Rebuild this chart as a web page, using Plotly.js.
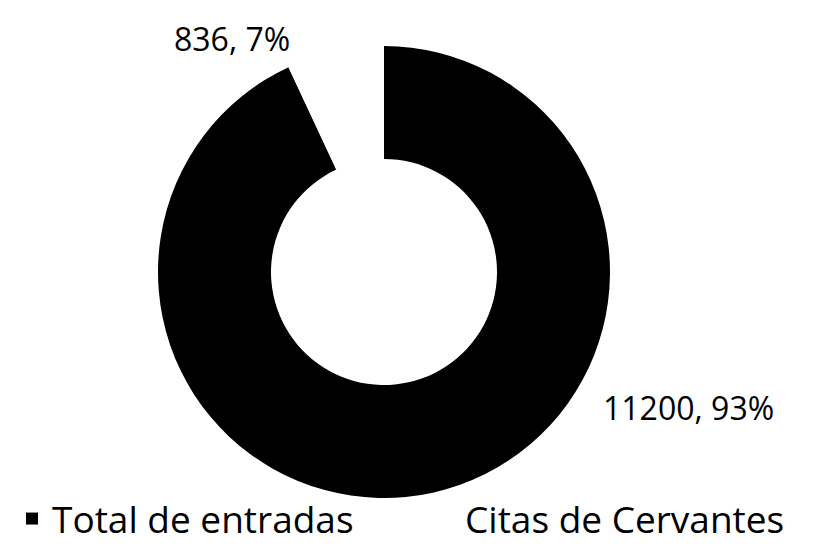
<!DOCTYPE html>
<html>
<head>
<meta charset="utf-8">
<script src="https://cdn.plot.ly/plotly-3.0.1.min.js"></script>
<style>
  html, body { margin: 0; padding: 0; background: #ffffff; overflow: hidden; }
  #chart { width: 832px; height: 545px; }
</style>
</head>
<body>
<div id="chart"></div>
<script>
// Data
const categories = ["Total de entradas", "Citas de Cervantes"];
const values = [11200, 836];
const sliceColors = ["#000000", "#ffffff"];

const total = values.reduce((a, b) => a + b, 0);
const labelText = values.map(v => v + ", " + Math.round(v / total * 100) + "%");

const W = 832, H = 545;

const trace = {
  type: "pie",
  labels: categories,
  values: values,
  hole: 0.5,
  sort: false,
  direction: "clockwise",
  rotation: 0,
  textinfo: "none",
  hoverinfo: "label+value+percent",
  marker: { colors: sliceColors, line: { width: 0 } },
  domain: { x: [158 / W, 610 / W], y: [1 - 498 / H, 1 - 46 / H] }
};

const layout = {
  width: W,
  height: H,
  margin: { l: 0, r: 0, t: 0, b: 0, autoexpand: false },
  paper_bgcolor: "#ffffff",
  plot_bgcolor: "#ffffff",
  font: { family: "Open Sans, sans-serif", color: "#000000" },
  showlegend: true,
  legend: {
    orientation: "h",
    x: 12 / W,
    xanchor: "left",
    y: 1 - 519 / H,
    yanchor: "middle",
    font: { size: 37, color: "#000000", family: "Open Sans, sans-serif" },
    entrywidth: 368,
    entrywidthmode: "pixels",
    bgcolor: "rgba(0,0,0,0)",
    borderwidth: 0
  },
  annotations: [
    {
      xref: "paper", yref: "paper",
      x: 231.5 / W, y: 1 - 38.5 / H,
      xanchor: "center", yanchor: "middle",
      text: labelText[1],
      showarrow: false,
      font: { size: 32, color: "#000000", family: "Open Sans, sans-serif" }
    },
    {
      xref: "paper", yref: "paper",
      x: 688 / W, y: 1 - 407.5 / H,
      xanchor: "center", yanchor: "middle",
      text: labelText[0],
      showarrow: false,
      font: { size: 32, color: "#000000", family: "Open Sans, sans-serif" }
    }
  ]
};

Plotly.newPlot("chart", [trace], layout, { displayModeBar: false, staticPlot: true });
</script>
</body>
</html>
